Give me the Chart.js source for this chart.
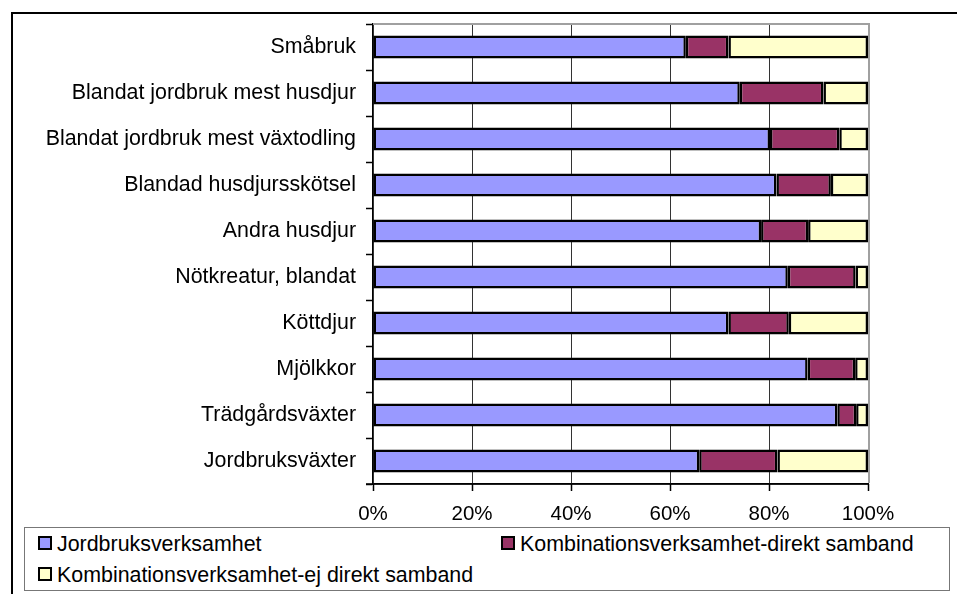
<!DOCTYPE html>
<html>
<head>
<meta charset="utf-8">
<script src="https://cdn.jsdelivr.net/npm/chart.js@4.4.1/dist/chart.umd.min.js"></script>
<style>
  html, body { margin: 0; padding: 0; background: #fff; overflow: hidden; }
  #wrap { position: relative; width: 957px; height: 594px; }
  #frame { position: absolute; left: 11px; top: 12px; width: 2000px; height: 2000px; border: 2px solid #000; }
  #canvas { position: absolute; left: 0; top: 0; }
  #legend { position: absolute; left: 24px; top: 527px; width: 924px; height: 62px; border: 1.5px solid #777;
            background: #fff; font-family: "Liberation Sans", Arial, sans-serif; font-size: 21.4px; color: #000; }
  .item { position: absolute; white-space: nowrap; line-height: 24px; }
  .box { display: inline-block; width: 10px; height: 10px; border: 2px solid #000; margin-right: 5px; vertical-align: 1px; }
</style>
</head>
<body>
<div id="wrap">
  <div id="frame"></div>
  <canvas id="canvas" width="957" height="594"></canvas>
  <div id="legend"></div>
</div>
<script>
// kategorier, översta stapeln först
var categories = [
    "Småbruk",
    "Blandat jordbruk mest husdjur",
    "Blandat jordbruk mest växtodling",
    "Blandad husdjursskötsel",
    "Andra husdjur",
    "Nötkreatur, blandat",
    "Köttdjur",
    "Mjölkkor",
    "Trädgårdsväxter",
    "Jordbruksväxter"
];
var seriesNames = [
    "Jordbruksverksamhet",
    "Kombinationsverksamhet-direkt samband",
    "Kombinationsverksamhet-ej direkt samband"
];
var jordbruk    = [63.2, 74.1, 80.2, 81.5, 78.4, 83.8, 71.8, 87.8, 93.8, 65.9];
var kombDirekt  = [ 8.6, 16.9, 14.0, 11.0,  9.5, 13.7, 12.2,  9.6,  3.8, 15.8];
var kombEjDirekt= [28.2,  9.0,  5.8,  7.5, 12.1,  2.5, 16.0,  2.6,  2.4, 18.3];
var xTicks = [0, 20, 40, 60, 80, 100];

var colors = ['#9999FF', '#993366', '#FFFFCC'];
var FONT = '"Liberation Sans", Arial, sans-serif';

// stödlinjer i mellanrummen, x-axel och ram runt ritytan
var plotFrame = {
    id: 'plotFrame',
    afterDatasetsDraw: function(chart){
        var a = chart.chartArea, ctx = chart.ctx, x = chart.scales.x;
        var bars = chart.getDatasetMeta(0).data;
        // mellanrum mellan staplarna (övre och nedre gräns)
        var gaps = [];
        var prev = a.top;
        bars.forEach(function(b){
            gaps.push([prev, b.y - b.height / 2]);
            prev = b.y + b.height / 2;
        });
        gaps.push([prev, a.bottom]);

        ctx.save();
        ctx.strokeStyle = '#333';
        ctx.lineWidth = 1;
        xTicks.forEach(function(v){
            var px = Math.round(x.getPixelForValue(v)) + 0.5;
            gaps.forEach(function(g){
                ctx.beginPath();
                ctx.moveTo(px, g[0]);
                ctx.lineTo(px, g[1]);
                ctx.stroke();
            });
            // skalstreck under axeln
            ctx.strokeStyle = '#000';
            ctx.lineWidth = 1.5;
            ctx.beginPath();
            ctx.moveTo(px, a.bottom);
            ctx.lineTo(px, a.bottom + 7);
            ctx.stroke();
            ctx.strokeStyle = '#333';
            ctx.lineWidth = 1;
        });
        // x-axelns linje
        ctx.strokeStyle = '#000';
        ctx.lineWidth = 1.5;
        ctx.beginPath();
        ctx.moveTo(a.left - 7, a.bottom);
        ctx.lineTo(a.right + 1, a.bottom);
        ctx.stroke();
        // grå ram upptill och till höger
        ctx.strokeStyle = '#a0a0a0';
        ctx.lineWidth = 2;
        ctx.beginPath();
        ctx.moveTo(a.left, a.top);
        ctx.lineTo(a.right + 1, a.top);
        ctx.lineTo(a.right + 1, a.bottom - 1);
        ctx.stroke();
        ctx.restore();
    }
};

var datasets = [jordbruk, kombDirekt, kombEjDirekt].map(function(d, i){
    return {
        label: seriesNames[i],
        data: d,
        backgroundColor: colors[i],
        borderColor: '#000',
        borderWidth: 2.5,
        borderSkipped: false,
        barPercentage: 0.5,
        categoryPercentage: 1.0
    };
});

var config = {
    type: 'bar',
    data: { labels: categories, datasets: datasets },
    options: {
        indexAxis: 'y',
        responsive: false,
        animation: false,
        layout: { padding: { left: 0, right: 89, top: 24, bottom: 0 } },
        plugins: { legend: { display: false }, tooltip: { enabled: false } },
        scales: {
            x: {
                stacked: true,
                min: 0,
                max: 100,
                afterFit: function(s){ s.height = 110; },
                ticks: {
                    stepSize: 20,
                    callback: function(v){ return v + '%'; },
                    font: { family: FONT, size: 20.5 },
                    color: '#000',
                    padding: 11,
                    maxRotation: 0
                },
                grid: {
                    color: '#333333',
                    lineWidth: 1,
                    tickLength: 7,
                    tickColor: '#000'
                },
                border: { color: '#000', width: 1.5 }
            },
            y: {
                stacked: true,
                afterFit: function(s){ s.width = 373; },
                ticks: {
                    font: { family: FONT, size: 21.4 },
                    color: '#000',
                    padding: 10
                },
                grid: {
                    drawOnChartArea: false,
                    offset: true,
                    tickLength: 7,
                    tickWidth: 1.5,
                    tickColor: '#000'
                },
                border: { color: '#000', width: 1.5 }
            }
        }
    },
    plugins: [plotFrame]
};

var chart = new Chart(document.getElementById('canvas').getContext('2d'), config);

// förklaring byggd från serierna
var legendPos = [[13, 4], [476, 4], [13, 35]];
var legend = document.getElementById('legend');
seriesNames.forEach(function(name, i){
    var el = document.createElement('div');
    el.className = 'item';
    el.style.left = legendPos[i][0] + 'px';
    el.style.top = legendPos[i][1] + 'px';
    el.innerHTML = '<span class="box" style="background:' + colors[i] + '"></span>' + name;
    legend.appendChild(el);
});
</script>
</body>
</html>
